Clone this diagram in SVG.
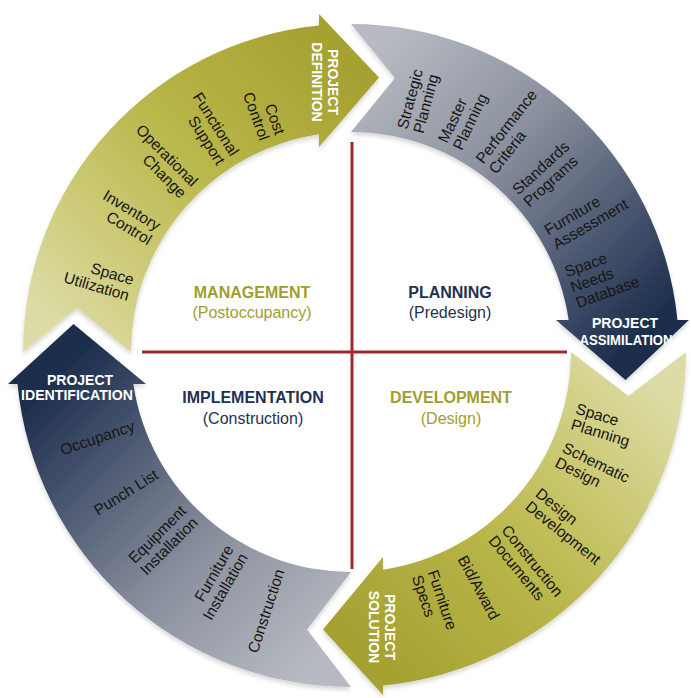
<svg xmlns="http://www.w3.org/2000/svg" width="691" height="698" viewBox="0 0 691 698">
  <defs>
    <linearGradient id="olive" gradientUnits="userSpaceOnUse" x1="76" y1="352" x2="351" y2="77">
      <stop offset="0" stop-color="#dddca6"/>
      <stop offset="0.3" stop-color="#cbc973"/>
      <stop offset="0.6" stop-color="#b8b548"/>
      <stop offset="1" stop-color="#a6a233"/>
    </linearGradient>
    <linearGradient id="slate" gradientUnits="userSpaceOnUse" x1="76" y1="352" x2="351" y2="77">
      <stop offset="0" stop-color="#b7bac2"/>
      <stop offset="0.4" stop-color="#8b919e"/>
      <stop offset="0.75" stop-color="#4a5670"/>
      <stop offset="1" stop-color="#1c2d4c"/>
    </linearGradient>
    <filter id="sh" x="-10%" y="-10%" width="120%" height="120%">
      <feDropShadow dx="0" dy="3" stdDeviation="2" flood-color="#000000" flood-opacity="0.16"/>
    </filter>
    <path id="arrowA" d="M 23 352 A 328 328 0 0 1 319 25.57 L 319 14 L 379 77.5 L 319 147 L 319 134.34 A 220 220 0 0 0 131 352 L 77 308 Z"/>
    <path id="arrowB" d="M 16 352 A 335 335 0 0 1 319 18.53 L 319 9 L 379 74.5 L 319 147 L 319 134.34 A 220 220 0 0 0 131 352 L 73.5 308 Z"/>
  </defs>
  <style>
    .lbl { font-family: "Liberation Sans", Arial, sans-serif; font-size: 15.5px; fill: #161616; }
    .in { text-anchor: end; }
    .out { text-anchor: start; }
    .head { font-family: "Liberation Sans", Arial, sans-serif; font-weight: bold; font-size: 14px; fill: #ffffff; text-anchor: middle; }
    .qt { font-family: "Liberation Sans", Arial, sans-serif; font-weight: bold; font-size: 16px; text-anchor: middle; }
    .qs { font-family: "Liberation Sans", Arial, sans-serif; font-size: 16px; text-anchor: middle; }
    .ol { fill: #a19e2e; }
    .nv { fill: #1f3250; }
    .div { stroke: #a1282c; stroke-width: 3; fill: none; }
  </style>
  <rect x="0" y="0" width="691" height="698" fill="#ffffff"/>

  <g id="connectors">
    <line class="div" x1="352" y1="142" x2="352" y2="569"/>
    <line class="div" x1="142" y1="352" x2="567" y2="352"/>
  </g>

  <g id="management-arrow">
    <g filter="url(#sh)"><use href="#arrowA" fill="url(#olive)"/></g>
    <text class="lbl in" transform="translate(131.2,287.7) rotate(16.3)"><tspan x="0" y="-2.75">Space</tspan><tspan x="0" y="13.75">Utilization</tspan></text>
    <text class="lbl in" transform="translate(154.9,233.7) rotate(31.1)"><tspan x="0" y="-2.75">Inventory</tspan><tspan x="0" y="13.75">Control</tspan></text>
    <text class="lbl in" transform="translate(189.6,189.5) rotate(45.2)"><tspan x="0" y="-2.75">Operational</tspan><tspan x="0" y="13.75">Change</tspan></text>
    <text class="lbl in" transform="translate(228.3,158.7) rotate(57.6)"><tspan x="0" y="-2.75">Functional</tspan><tspan x="0" y="13.75">Support</tspan></text>
    <text class="lbl in" transform="translate(272.7,136.8) rotate(70)"><tspan x="0" y="-2.75">Cost</tspan><tspan x="0" y="13.75">Control</tspan></text>
    <text class="head" transform="translate(323,82) rotate(90)"><tspan x="0" y="-5">PROJECT</tspan><tspan x="0" y="11">DEFINITION</tspan></text>
  </g>

  <g id="planning-arrow">
    <g filter="url(#sh)"><use href="#arrowA" fill="url(#slate)" transform="rotate(90 351 352)"/></g>
    <text class="lbl out" transform="translate(409.9,130.7) rotate(-75.1)"><tspan x="0" y="-2.75">Strategic</tspan><tspan x="0" y="13.75">Planning</tspan></text>
    <text class="lbl out" transform="translate(449.6,145.3) rotate(-64.5)"><tspan x="0" y="-2.75">Master</tspan><tspan x="0" y="13.75">Planning</tspan></text>
    <text class="lbl out" transform="translate(485.3,166.5) rotate(-52)"><tspan x="0" y="-2.75">Performance</tspan><tspan x="0" y="13.75">Criteria</tspan></text>
    <text class="lbl out" transform="translate(520.1,197.6) rotate(-42.4)"><tspan x="0" y="-2.75">Standards</tspan><tspan x="0" y="13.75">Programs</tspan></text>
    <text class="lbl out" transform="translate(549.7,238.2) rotate(-30.5)"><tspan x="0" y="-2.75">Furniture</tspan><tspan x="0" y="13.75">Assessment</tspan></text>
    <text class="lbl out" transform="translate(570.8,287.7) rotate(-20)"><tspan x="0" y="-11">Space</tspan><tspan x="0" y="5.5">Needs</tspan><tspan x="0" y="22">Database</tspan></text>
    <text class="head"><tspan x="625" y="328">PROJECT</tspan><tspan x="626" y="345" textLength="93" lengthAdjust="spacingAndGlyphs">ASSIMILATION</tspan></text>
  </g>

  <g id="development-arrow">
    <g filter="url(#sh)"><use href="#arrowB" fill="url(#olive)" transform="rotate(180 351 352)"/></g>
    <text class="lbl out" transform="translate(574,415.9) rotate(17)"><tspan x="0" y="-2.75">Space</tspan><tspan x="0" y="13.75">Planning</tspan></text>
    <text class="lbl out" transform="translate(560,454) rotate(26)"><tspan x="0" y="-2.75">Schematic</tspan><tspan x="0" y="13.75">Design</tspan></text>
    <text class="lbl out" transform="translate(532.8,497.7) rotate(38.7)"><tspan x="0" y="-2.75">Design</tspan><tspan x="0" y="13.75">Development</tspan></text>
    <text class="lbl out" transform="translate(498.5,532.3) rotate(50.7)"><tspan x="0" y="-2.75">Construction</tspan><tspan x="0" y="13.75">Documents</tspan></text>
    <text class="lbl out" transform="translate(462.2,556.7) rotate(61.5)"><tspan x="0" y="5.5">Bid/Award</tspan></text>
    <text class="lbl out" transform="translate(424.9,573) rotate(71.5)"><tspan x="0" y="-2.75">Furniture</tspan><tspan x="0" y="13.75">Specs</tspan></text>
    <text class="head" transform="translate(380,627) rotate(90)"><tspan x="0" y="-5">PROJECT</tspan><tspan x="0" y="11">SOLUTION</tspan></text>
  </g>

  <g id="implementation-arrow">
    <g filter="url(#sh)"><use href="#arrowB" fill="url(#slate)" transform="rotate(270 351 352)"/></g>
    <text class="lbl in" transform="translate(134.1,425.4) rotate(-18.7)"><tspan x="0" y="5.5">Occupancy</tspan></text>
    <text class="lbl in" transform="translate(156.6,473) rotate(-31.9)"><tspan x="0" y="5.5">Punch List</tspan></text>
    <text class="lbl in" transform="translate(189.1,513.9) rotate(-45)"><tspan x="0" y="-2.75">Equipment</tspan><tspan x="0" y="13.75">Installation</tspan></text>
    <text class="lbl in" transform="translate(236.5,550.3) rotate(-60)"><tspan x="0" y="-2.75">Furniture</tspan><tspan x="0" y="13.75">Installation</tspan></text>
    <text class="lbl in" transform="translate(279.5,569.6) rotate(-71.8)"><tspan x="0" y="5.5">Construction</tspan></text>
    <text class="head"><tspan x="80" y="385">PROJECT</tspan><tspan x="77" y="400" textLength="112" lengthAdjust="spacingAndGlyphs">IDENTIFICATION</tspan></text>
  </g>

  <g id="management">
    <text class="qt ol" x="252" y="298">MANAGEMENT</text>
    <text class="qs ol" x="252" y="318">(Postoccupancy)</text>
  </g>
  <g id="planning">
    <text class="qt nv" x="450" y="298">PLANNING</text>
    <text class="qs nv" x="450" y="318">(Predesign)</text>
  </g>
  <g id="implementation">
    <text class="qt nv" x="253" y="403">IMPLEMENTATION</text>
    <text class="qs nv" x="253" y="424">(Construction)</text>
  </g>
  <g id="development">
    <text class="qt ol" x="451" y="403">DEVELOPMENT</text>
    <text class="qs ol" x="451" y="424">(Design)</text>
  </g>
</svg>
